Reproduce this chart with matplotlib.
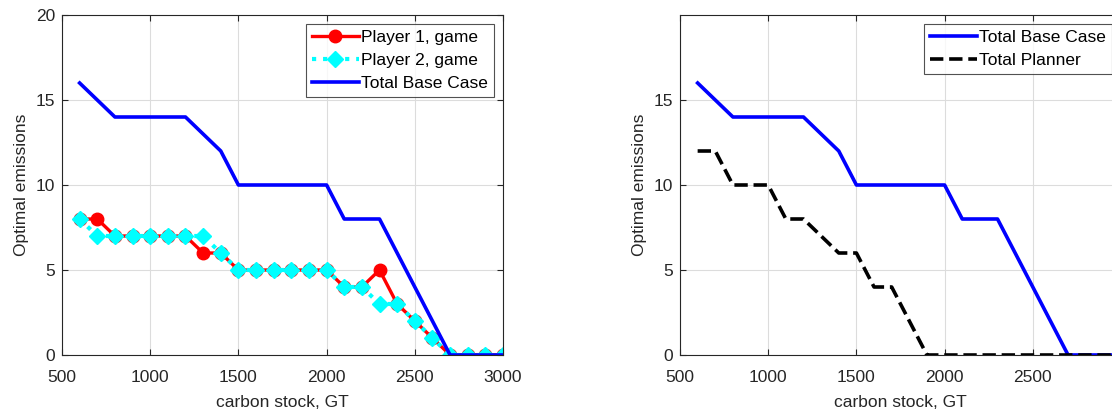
import matplotlib
matplotlib.use("Agg")
import matplotlib.pyplot as plt

plt.rcParams['font.family'] = ['Liberation Sans', 'DejaVu Sans']
plt.rcParams['font.size'] = 12.5

# carbon stock grid, GT
stock = list(range(600, 3001, 100))

# optimal emissions per stock level
player1 = [8, 8, 7, 7, 7, 7, 7, 6, 6, 5, 5, 5, 5, 5, 5, 4, 4, 5, 3, 2, 1, 0, 0, 0, 0]
player2 = [8, 7, 7, 7, 7, 7, 7, 7, 6, 5, 5, 5, 5, 5, 5, 4, 4, 3, 3, 2, 1, 0, 0, 0, 0]
base_total = [16, 15, 14, 14, 14, 14, 14, 13, 12, 10, 10, 10, 10, 10, 10, 8, 8, 8, 6, 4, 2, 0, 0, 0, 0]
planner_total = [12, 12, 10, 10, 10, 8, 8, 7, 6, 6, 4, 4, 2, 0, 0, 0, 0, 0, 0, 0, 0, 0, 0, 0, 0]

xticks = [500, 1000, 1500, 2000, 2500, 3000]
dark = '#262626'

fig = plt.figure(figsize=(11.12, 4.12), dpi=100)
W, H = 1112, 412
ax1 = fig.add_axes([62 / W, 57 / H, 441 / W, 340 / H])
ax2 = fig.add_axes([680 / W, 57 / H, 441 / W, 340 / H])


def style(ax, yticks, xlabels):
    ax.set_xlim(500, 3000)
    ax.set_ylim(0, 20)
    ax.set_xticks(xticks)
    ax.set_xticklabels(xlabels)
    ax.set_yticks(yticks)
    ax.grid(True, color='#dcdcdc', linewidth=0.8)
    ax.set_axisbelow(True)
    ax.tick_params(direction='in', top=True, right=True, colors=dark,
                   labelcolor=dark, length=4, width=0.8)
    ax.tick_params(axis='x', pad=11)
    ax.tick_params(axis='y', pad=5)
    for s in ax.spines.values():
        s.set_color(dark)
        s.set_linewidth(0.8)
    ax.set_xlabel('carbon stock, GT', color=dark, labelpad=7)
    ax.set_ylabel('Optimal emissions', color=dark, labelpad=5)


def add_legend(ax):
    leg = ax.legend(loc='upper right', fancybox=False, edgecolor=dark,
                    borderpad=0.35, labelspacing=0.45, handlelength=2.7,
                    handletextpad=0.15, borderaxespad=0.5)
    leg.get_frame().set_linewidth(0.8)


# left: game players vs base case
ax1.plot(stock, player1, '-o', color='red', mfc='red', mec='red',
         lw=2.4, ms=9, label='Player 1, game')
ax1.plot(stock, player2, ':D', color='cyan', mfc='cyan', mec='cyan',
         lw=3, ms=8.5, label='Player 2, game')
ax1.plot(stock, base_total, '-', color='blue', lw=2.6, label='Total Base Case')
style(ax1, [0, 5, 10, 15, 20], [str(v) for v in xticks])
add_legend(ax1)

# right: base case vs planner
ax2.plot(stock, base_total, '-', color='blue', lw=2.6, label='Total Base Case')
ax2.plot(stock, planner_total, '--', color='black', lw=2.6, label='Total Planner')
style(ax2, [0, 5, 10, 15], [str(v) for v in xticks[:-1]] + [''])
add_legend(ax2)

fig.savefig('out.png', dpi=100)
